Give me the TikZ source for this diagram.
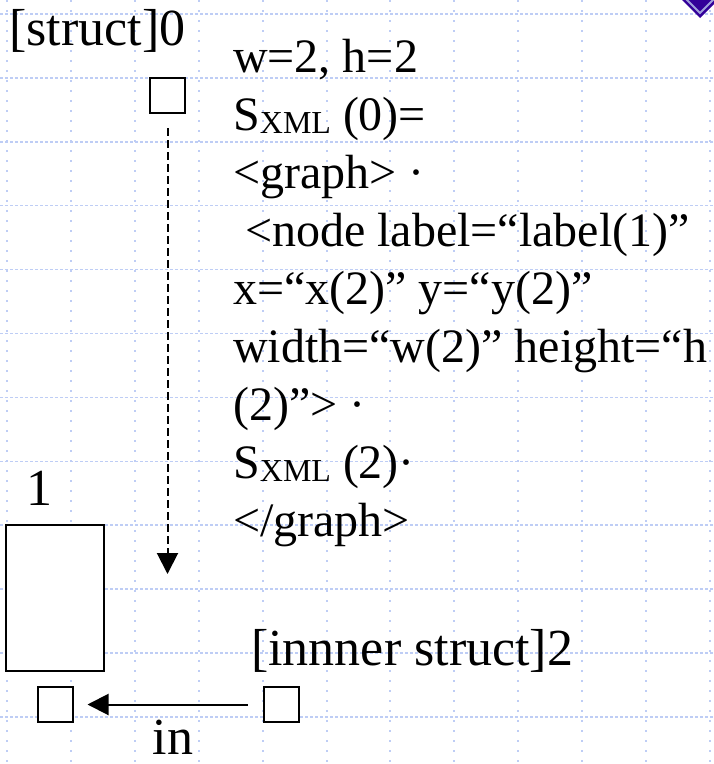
\documentclass[tikz,border=0pt]{standalone}
\usepackage{fontspec}
\setmainfont{Liberation Serif}
\usepackage{xcolor}
\definecolor{gridblue}{RGB}{190,205,245}
\definecolor{bulletdark}{RGB}{51,0,153}
\definecolor{bulletlight}{RGB}{160,160,220}
\usetikzlibrary{arrows.meta,positioning}
\tikzset{
  grid_h/.style={draw=gridblue,line width=1.5pt,dash pattern=on 3pt off 2pt},
  grid_v/.style={draw=gridblue,line width=2pt,dash pattern=on 2pt off 8pt},
  sq_box/.style={rectangle,draw=black,fill=white,line width=2pt,
    minimum size=35pt,inner sep=0pt},
  tall_box/.style={rectangle,draw=black,fill=white,line width=2pt,
    minimum width=98pt,minimum height=146pt,inner sep=0pt},
  lbl_big/.style={inner sep=0pt,font=\fontsize{52}{52}\selectfont},
  xml_txt/.style={inner sep=0pt,align=left,font=\fontsize{48}{58}\selectfont},
  arr/.style={-{Triangle[length=21pt,width=21pt]},line width=2pt,draw=black},
  arr_dash/.style={arr,dash pattern=on 8pt off 4pt},
}
\newcommand{\sxml}{S{\fontsize{32}{32}\selectfont\raisebox{-3pt}{XML}}}

\begin{document}
\begin{tikzpicture}[x=1pt,y=-1pt]
  \useasboundingbox (0,0) rectangle (714,764);

  % slide grid
  \foreach \k in {0,...,11} {
    \draw[grid_h] (0,{14+63.9*\k}) -- (714,{14+63.9*\k});
    \draw[grid_v] ({7+63.9*\k},0) -- ({7+63.9*\k},764);
  }

  % bullet in the corner
  \begin{scope}
    \clip (0,0) rectangle (714,764);
    \fill[bulletdark] (700,-30) -- (724,-6) -- (700,18) -- (676,-6) -- cycle;
    \draw[bulletlight,line width=2pt]
      (700,-25) -- (719,-6) -- (700,13) -- (681,-6) -- cycle;
  \end{scope}

  \node (struct0) [lbl_big,anchor=base west] at (9,45) {[struct]0};
  \node (sq0) [sq_box] at (167.5,95.5) {};

  % base of a multi-line node = last line
  \node (xml) [xml_txt,anchor=base west] at (233,536)
    {w=2, h=2\\
     \sxml\ (0)=\\
     <graph> ·\\
     \hspace*{12pt}<node label=“label(1)”\\
     x=“x(2)” y=“y(2)”\\
     width=“w(2)” height=“h\\
     (2)”> ·\\
     \sxml\ (2)·\\
     </graph>};

  \node (box1) [tall_box] at (55,598) {};
  \node (lbl1) [lbl_big,anchor=base west] at (26,505) {1};
  \node (sq1) [sq_box,below=14pt of box1] {};
  \node (sq2) [sq_box,right=189pt of sq1] {};
  \node (inner2) [lbl_big,anchor=base west] at (251,665) {[innner struct]2};
  \coordinate (drop) at (167.5,574);

  \draw[arr_dash,shorten <=14pt] (sq0) -- (drop);
  \draw[arr,shorten <=15pt,shorten >=14pt] (sq2) --
    node[lbl_big,below=15pt,xshift=5pt]{in} (sq1);

\end{tikzpicture}
\end{document}
